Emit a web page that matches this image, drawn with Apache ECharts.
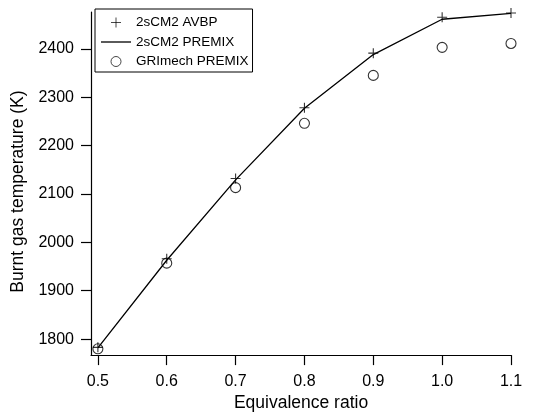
<!DOCTYPE html>
<html>
<head>
<meta charset="utf-8">
<script src="https://cdn.jsdelivr.net/npm/echarts@6/dist/echarts.min.js"></script>
<style>
html,body{margin:0;padding:0;background:#fff;}
#chart{width:534px;height:417px;}
</style>
</head>
<body>
<div id="chart"></div>
<script>
// Data
const phi = [0.5, 0.6, 0.7, 0.8, 0.9, 1.0, 1.1];
const avbp = [1783, 1966, 2132, 2278, 2391, 2465, 2474];
const premix = [1782, 1963, 2129, 2277, 2388, 2461, 2473];
const grimech = [1780, 1957, 2113, 2246, 2345, 2403, 2411];
const xTicks = [0.5, 0.6, 0.7, 0.8, 0.9, 1.0, 1.1];
const yTicks = [1800, 1900, 2000, 2100, 2200, 2300, 2400];

const pairs = (xs, ys) => xs.map((x, i) => [x, ys[i]]);
const FONT = 'Liberation Sans';

const chart = echarts.init(document.getElementById('chart'), null, {renderer: 'canvas'});
chart.setOption({
  animation: false,
  backgroundColor: '#fff',
  textStyle: {fontFamily: FONT, color: '#000'},
  grid: {left: 91, right: 23, top: 12, bottom: 55},
  legend: {
    left: 95, top: 9,
    orient: 'vertical',
    backgroundColor: '#fff',
    borderColor: '#000', borderWidth: 1,
    padding: [6, 4, 3, 6],
    itemWidth: 30, itemHeight: 10, itemGap: 5,
    textStyle: {fontFamily: FONT, fontSize: 13.5, color: '#000'},
    data: [
      {name: '2sCM2 AVBP', itemStyle: {borderWidth: 0.9}},
      {name: '2sCM2 PREMIX', icon: 'path://M0,0L30,0L30,1.3L0,1.3Z', itemStyle: {color: '#000'}},
      {name: 'GRImech PREMIX', itemStyle: {borderWidth: 0.9}}
    ]
  },
  xAxis: {
    type: 'value', min: 0.49, max: 1.1,
    name: 'Equivalence ratio', nameLocation: 'middle', nameGap: 34,
    nameTextStyle: {fontFamily: FONT, fontSize: 17.5, color: '#000'},
    axisLine: {show: true, onZero: false, lineStyle: {color: '#000', width: 1.2}},
    axisTick: {show: true, customValues: xTicks, length: 10, lineStyle: {color: '#000', width: 1.2}},
    axisLabel: {customValues: xTicks, margin: 18, fontFamily: FONT, fontSize: 16, color: '#000',
      formatter: v => Number(v).toFixed(1)},
    splitLine: {show: false}
  },
  yAxis: {
    type: 'value', min: 1767, max: 2476,
    name: 'Burnt gas temperature (K)', nameLocation: 'middle', nameGap: 60,
    nameTextStyle: {fontFamily: FONT, fontSize: 17.5, color: '#000', padding: [0, 16, 0, 0]},
    axisLine: {show: true, onZero: false, lineStyle: {color: '#000', width: 1.2}},
    axisTick: {show: true, customValues: yTicks, length: 10, lineStyle: {color: '#000', width: 1.2}},
    axisLabel: {customValues: yTicks, margin: 17, fontFamily: FONT, fontSize: 16, color: '#000',
      formatter: v => String(Math.round(v))},
    splitLine: {show: false}
  },
  series: [
    {
      name: '2sCM2 AVBP', type: 'scatter',
      data: pairs(phi, avbp),
      symbol: 'path://M0,5L10,5M5,0L5,10', symbolSize: 10,
      itemStyle: {color: 'none', borderColor: '#000', borderWidth: 1.1},
      z: 4
    },
    {
      name: '2sCM2 PREMIX', type: 'line',
      data: pairs(phi, premix),
      symbol: 'none', showSymbol: false,
      lineStyle: {color: '#000', width: 1.3},
      itemStyle: {color: '#000'},
      z: 3
    },
    {
      name: 'GRImech PREMIX', type: 'scatter',
      data: pairs(phi, grimech),
      symbol: 'circle', symbolSize: 10,
      itemStyle: {color: 'none', borderColor: '#000', borderWidth: 1.1},
      z: 4
    }
  ]
});
</script>
</body>
</html>
